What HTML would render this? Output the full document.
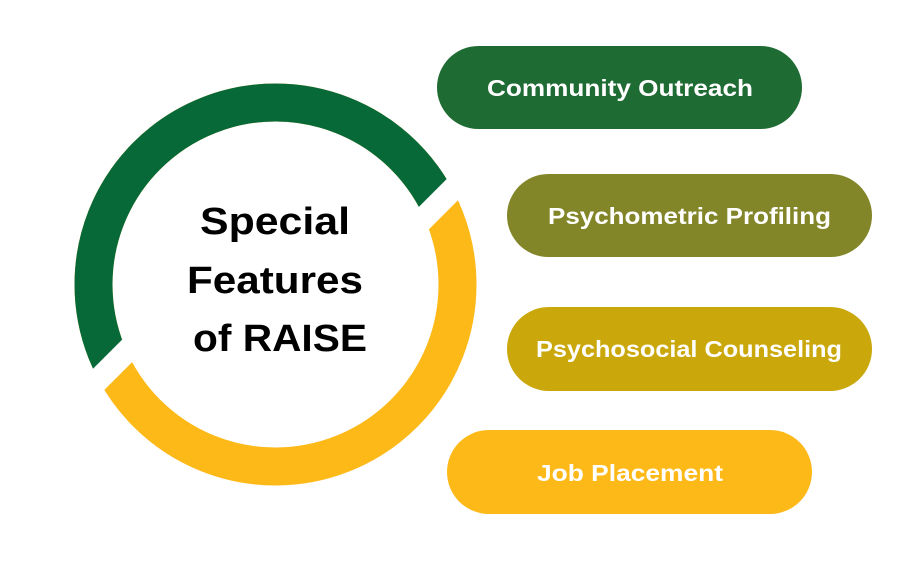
<!DOCTYPE html>
<html><head><meta charset="utf-8"><style>
html,body{margin:0;padding:0;background:#fff;}
svg{display:block;}
</style></head><body>
<svg width="922" height="579" viewBox="0 0 922 579" xmlns="http://www.w3.org/2000/svg">
<defs>
<clipPath id="top"><polygon points="-100,472.25 1000,-77.75 1000,-200 -100,-200"/></clipPath>
</defs>
<circle cx="275.5" cy="284.5" r="182" fill="none" stroke="#fdb918" stroke-width="38"/>
<circle cx="275.5" cy="284.5" r="182" fill="none" stroke="#076938" stroke-width="38" clip-path="url(#top)"/>
<line x1="400" y1="242" x2="480" y2="162" stroke="#fff" stroke-width="23"/>
<line x1="75" y1="403" x2="155" y2="323" stroke="#fff" stroke-width="23"/>
<g font-family="Liberation Sans, sans-serif" font-weight="bold" fill="#000" font-size="38" text-anchor="middle">
<text x="275" y="234" textLength="150" lengthAdjust="spacingAndGlyphs">Special</text>
<text x="275" y="293" textLength="176" lengthAdjust="spacingAndGlyphs">Features</text>
<text x="280" y="351" textLength="174" lengthAdjust="spacingAndGlyphs">of RAISE</text>
</g>
<rect x="437" y="46" width="365" height="83" rx="41.5" fill="#1e6b33"/>
<rect x="507" y="174" width="365" height="83" rx="41.5" fill="#828628"/>
<rect x="507" y="307" width="365" height="84" rx="42" fill="#caa70a"/>
<rect x="447" y="430" width="365" height="84" rx="42" fill="#fdb918"/>
<g font-family="Liberation Sans, sans-serif" font-weight="bold" fill="#fff" font-size="23" text-anchor="middle">
<text x="620" y="96" textLength="266" lengthAdjust="spacingAndGlyphs">Community Outreach</text>
<text x="689.5" y="224" textLength="283" lengthAdjust="spacingAndGlyphs">Psychometric Profiling</text>
<text x="689" y="357" textLength="306" lengthAdjust="spacingAndGlyphs">Psychosocial Counseling</text>
<text x="630" y="481" textLength="186" lengthAdjust="spacingAndGlyphs">Job Placement</text>
</g>
</svg>
</body></html>
